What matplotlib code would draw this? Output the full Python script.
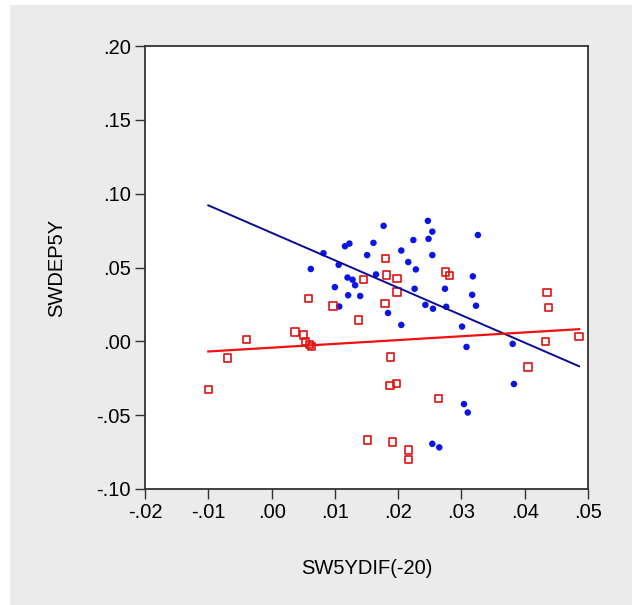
import matplotlib
matplotlib.use("Agg")
import matplotlib.pyplot as plt
from matplotlib.patches import Rectangle
import numpy as np

plt.rcParams['font.family'] = ['Liberation Sans', 'DejaVu Sans']

# blue series (filled dots)
blue_x = [0.0062, 0.0082, 0.0100, 0.0106, 0.0107, 0.0116, 0.0123, 0.0120, 0.0128,
          0.0132, 0.0121, 0.0140, 0.0151, 0.0161, 0.0165, 0.0177, 0.0184, 0.0205,
          0.0205, 0.0216, 0.0224, 0.0226, 0.0228, 0.0243, 0.0247, 0.0248, 0.0254,
          0.0254, 0.0255, 0.0274, 0.0276, 0.0301, 0.0308, 0.0318, 0.0317, 0.0323,
          0.0326, 0.0304, 0.0310, 0.0254, 0.0265, 0.0381, 0.0383]
blue_y = [0.0490, 0.0597, 0.0367, 0.0518, 0.0236, 0.0644, 0.0662, 0.0432, 0.0417,
          0.0380, 0.0312, 0.0307, 0.0584, 0.0667, 0.0453, 0.0782, 0.0192, 0.0615,
          0.0111, 0.0537, 0.0686, 0.0356, 0.0487, 0.0247, 0.0816, 0.0694, 0.0743,
          0.0584, 0.0221, 0.0356, 0.0234, 0.0100, -0.0038, 0.0440, 0.0315, 0.0241,
          0.0720, -0.0425, -0.0482, -0.0694, -0.0718, -0.0017, -0.0289]

# red series (open squares)
red_x = [-0.0100, -0.0070, -0.0040, 0.0037, 0.0050, 0.0054, 0.0058, 0.0060, 0.0063,
         0.0097, 0.0137, 0.0145, 0.0180, 0.0179, 0.0182, 0.0198, 0.0198, 0.0188,
         0.0187, 0.0197, 0.0152, 0.0191, 0.0216, 0.0216, 0.0264, 0.0275, 0.0281,
         0.0405, 0.0435, 0.0438, 0.0433, 0.0486]
red_y = [-0.0328, -0.0114, 0.0012, 0.0064, 0.0043, 0.0001, 0.0289, -0.0020, -0.0033,
         0.0239, 0.0145, 0.0417, 0.0563, 0.0257, 0.0450, 0.0427, 0.0333, -0.0106,
         -0.0299, -0.0284, -0.0668, -0.0681, -0.0736, -0.0801, -0.0388, 0.0469, 0.0445,
         -0.0174, 0.0330, 0.0231, -0.0002, 0.0032]

# fit lines (intercept, slope)
blue_fit = (0.0735, -1.86)
red_fit = (-0.0043, 0.258)

x_ticks = [-0.02, -0.01, 0.00, 0.01, 0.02, 0.03, 0.04, 0.05]
x_labels = ['-.02', '-.01', '.00', '.01', '.02', '.03', '.04', '.05']
y_ticks = [-0.10, -0.05, 0.00, 0.05, 0.10, 0.15, 0.20]
y_labels = ['-.10', '-.05', '.00', '.05', '.10', '.15', '.20']

W, H = 632, 605
fig = plt.figure(figsize=(W / 100, H / 100), dpi=100)
fig.patch.set_facecolor('white')
fig.patches.append(Rectangle((10 / W, 0), 1, 1 - 5 / H, transform=fig.transFigure,
                             facecolor='#ebebeb', edgecolor='none', zorder=-10))

ax = fig.add_axes([145 / W, 1 - 489 / H, (588 - 145) / W, (489 - 46) / H])
ax.set_facecolor('white')

ax.scatter(blue_x, blue_y, s=22, color='#0a14e6', edgecolors='none', zorder=3)
ax.scatter(red_x, red_y, s=28, marker='s', facecolors='none', edgecolors='#e01010',
           linewidths=1.2, zorder=3)

xs = np.array([min(min(blue_x), min(red_x)), max(max(blue_x), max(red_x))])
ax.plot(xs, blue_fit[0] + blue_fit[1] * xs, color='#0a0a96', lw=1.4, zorder=4)
ax.plot(xs, red_fit[0] + red_fit[1] * xs, color='#f01010', lw=1.6, zorder=4)

ax.set_xlim(-0.02, 0.05)
ax.set_ylim(-0.10, 0.20)
ax.set_xticks(x_ticks)
ax.set_xticklabels(x_labels)
ax.set_yticks(y_ticks)
ax.set_yticklabels(y_labels)
ax.tick_params(direction='out', length=7, width=1, color='#333333',
               labelsize=14.5, pad=3)
for sp in ax.spines.values():
    sp.set_color('#333333')
    sp.set_linewidth(1.3)

ax.set_xlabel('SW5YDIF(-20)', fontsize=14.5, labelpad=27)
ax.set_ylabel('SWDEP5Y', fontsize=14.5, labelpad=22)

fig.savefig('out.png', dpi=100)
